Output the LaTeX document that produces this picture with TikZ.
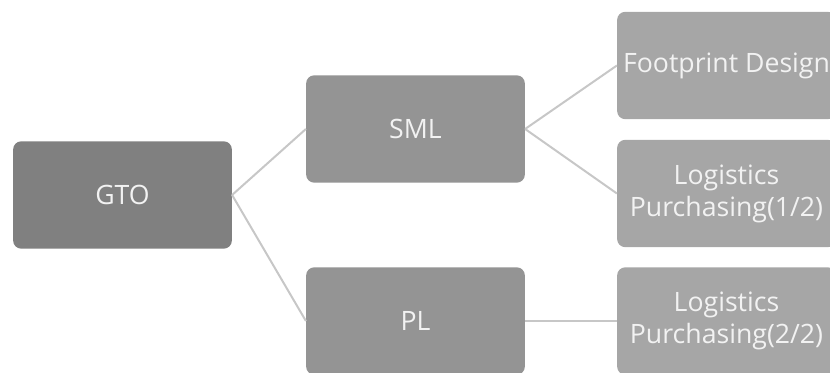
\documentclass[tikz,border=0pt]{standalone}
\usepackage{fontspec}
\setmainfont{Open Sans}
\begin{document}
\begin{tikzpicture}[
        x=0.75pt,
        y=0.75pt,
        font=\fontsize{20}{24}\selectfont
    ]
    \tikzset{
        boxbase/.style = {rectangle, rounded corners=6pt, align=center, text=white!95!black, minimum width=164pt, minimum height=80.5pt, inner sep=1pt},
        boxroot/.style = {boxbase, fill=black!50},
        boxmid/.style = {boxbase, fill=black!42},
        boxleaf/.style = {boxbase, fill=black!35},
        myedge/.style = {-, line width=1.5pt, black!22},
    }
        \useasboundingbox (0,0) rectangle (830,373);
        \clip (0,0) rectangle (830,373);
        \node[boxroot] at (122.5,178) (gto) {GTO};
        \node[boxmid] at (415.5,244) (sml) {SML};
        \node[boxmid] at (415.5,52) (pl) {PL};
        \node[boxleaf] at (726.5,307.5) (fd) {Footprint Design};
        \node[boxleaf] at (726.5,179.5) (lp1) {Logistics\\Purchasing(1/2)};
        \node[boxleaf] at (726.5,52) (lp2) {Logistics\\Purchasing(2/2)};
        %
        \draw[myedge] (gto.east) -- (sml.west);
        \draw[myedge] (gto.east) -- (pl.west);
        %
        \draw[myedge] (sml.east) -- (fd.west);
        \draw[myedge] (sml.east) -- (lp1.west);
        \draw[myedge] (pl.east) -- (lp2.west);
    \end{tikzpicture}
\end{document}
